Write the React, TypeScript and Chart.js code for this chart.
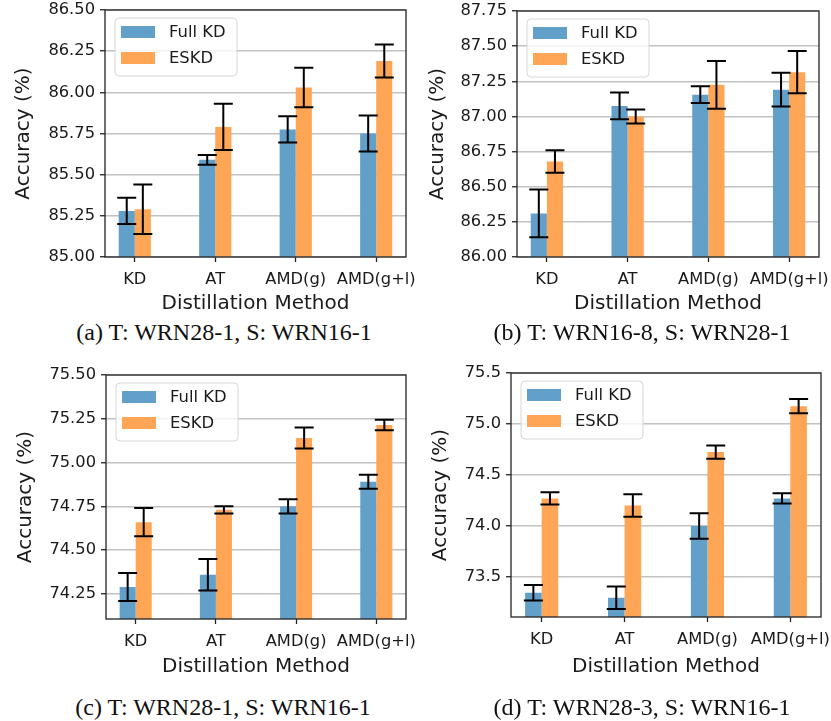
import React, { useEffect, useRef } from 'react';
import { Chart, registerables } from 'chart.js';

Chart.register(...registerables);

// Shared categories and series names
const methods = ['KD', 'AT', 'AMD(g)', 'AMD(g+l)'];
const seriesNames = ['Full KD', 'ESKD'];

// (a) T: WRN28-1, S: WRN16-1
const fullKdA = [85.28, 85.59, 85.775, 85.75];
const fullKdErrA = [0.08, 0.03, 0.08, 0.11];
const eskdA = [85.29, 85.79, 86.03, 86.19];
const eskdErrA = [0.15, 0.14, 0.12, 0.1];
const yTicksA = ['85.00', '85.25', '85.50', '85.75', '86.00', '86.25', '86.50'];
const yRangeA = [85.0, 86.5];

// (b) T: WRN16-8, S: WRN28-1
const fullKdB = [86.31, 87.075, 87.155, 87.19];
const fullKdErrB = [0.17, 0.095, 0.06, 0.12];
const eskdB = [86.68, 87.0, 87.225, 87.315];
const eskdErrB = [0.08, 0.05, 0.17, 0.15];
const yTicksB = ['86.00', '86.25', '86.50', '86.75', '87.00', '87.25', '87.50', '87.75'];
const yRangeB = [86.0, 87.75];

// (c) T: WRN28-1, S: WRN16-1
const fullKdC = [74.29, 74.36, 74.75, 74.89];
const fullKdErrC = [0.08, 0.09, 0.04, 0.04];
const eskdC = [74.66, 74.73, 75.14, 75.215];
const eskdErrC = [0.08, 0.02, 0.06, 0.03];
const yTicksC = ['74.25', '74.50', '74.75', '75.00', '75.25', '75.50'];
const yRangeC = [74.107, 75.5];

// (d) T: WRN28-3, S: WRN16-1
const fullKdD = [73.345, 73.295, 74.0, 74.27];
const fullKdErrD = [0.075, 0.11, 0.125, 0.05];
const eskdD = [74.27, 74.2, 74.725, 75.175];
const eskdErrD = [0.06, 0.11, 0.065, 0.07];
const yTicksD = ['73.5', '74.0', '74.5', '75.0', '75.5'];
const yRangeD = [73.107, 75.5];

const captions = [
  '(a) T: WRN28-1, S: WRN16-1',
  '(b) T: WRN16-8, S: WRN28-1',
  '(c) T: WRN28-1, S: WRN16-1',
  '(d) T: WRN28-3, S: WRN16-1',
];

const FONT = '"DejaVu Sans", sans-serif';
const TEXT = '#1a1a1a';
const BLUE = '#62a0ca';
const ORANGE = '#ffa556';

// Frame, error bars and an in-axes legend
const overlayPlugin = {
  id: 'overlay',
  afterDatasetsDraw(chart: any) {
    const { ctx, chartArea, scales } = chart;
    const y = scales.y;
    ctx.save();

    // error bars
    ctx.strokeStyle = '#000';
    ctx.lineWidth = 2;
    chart.data.datasets.forEach((ds: any, d: number) => {
      const meta = chart.getDatasetMeta(d);
      meta.data.forEach((bar: any, i: number) => {
        const v = ds.data[i].y;
        const e = ds.errors[i];
        const yt = y.getPixelForValue(v + e);
        const yb = y.getPixelForValue(v - e);
        const x = bar.x;
        const cap = 9.5;
        ctx.beginPath();
        ctx.moveTo(x, yt);
        ctx.lineTo(x, yb);
        ctx.moveTo(x - cap, yt);
        ctx.lineTo(x + cap, yt);
        ctx.moveTo(x - cap, yb);
        ctx.lineTo(x + cap, yb);
        ctx.stroke();
      });
    });

    // axes frame
    ctx.strokeStyle = '#222';
    ctx.lineWidth = 1.3;
    ctx.strokeRect(chartArea.left, chartArea.top, chartArea.right - chartArea.left, chartArea.bottom - chartArea.top);

    // legend
    const lx = chartArea.left + 10;
    const ly = chartArea.top + 8;
    const lw = 122;
    const lh = 58;
    const r = 4;
    ctx.beginPath();
    ctx.moveTo(lx + r, ly);
    ctx.arcTo(lx + lw, ly, lx + lw, ly + lh, r);
    ctx.arcTo(lx + lw, ly + lh, lx, ly + lh, r);
    ctx.arcTo(lx, ly + lh, lx, ly, r);
    ctx.arcTo(lx, ly, lx + lw, ly, r);
    ctx.closePath();
    ctx.fillStyle = 'rgba(255,255,255,0.8)';
    ctx.fill();
    ctx.strokeStyle = '#d6d6d6';
    ctx.lineWidth = 1;
    ctx.stroke();

    ctx.font = `16.4px ${FONT}`;
    ctx.textBaseline = 'middle';
    ctx.textAlign = 'left';
    chart.data.datasets.forEach((ds: any, d: number) => {
      const py = ly + 8 + d * 26;
      ctx.fillStyle = ds.backgroundColor;
      ctx.fillRect(lx + 6, py, 34, 12);
      ctx.fillStyle = TEXT;
      ctx.fillText(ds.label, lx + 54, py + 6.5);
    });

    ctx.restore();
  },
};

type PanelProps = {
  full: number[];
  fullErr: number[];
  eskd: number[];
  eskdErr: number[];
  yTicks: string[];
  yRange: number[];
  left: number;
  top: number;
  width: number;
  height: number;
  area: { left: number; top: number; right: number; bottom: number };
  yTitlePad: number;
  xTitlePad: number;
};

function Panel(p: PanelProps) {
  const ref = useRef<HTMLCanvasElement | null>(null);

  useEffect(() => {
    if (!ref.current) return;
    const { area, width, height } = p;
    const chart = new Chart(ref.current, {
      type: 'bar',
      data: {
        datasets: [
          {
            label: seriesNames[0],
            data: p.full.map((v, i) => ({ x: i, y: v })),
            backgroundColor: BLUE,
            borderWidth: 0,
            errors: p.fullErr,
          } as any,
          {
            label: seriesNames[1],
            data: p.eskd.map((v, i) => ({ x: i, y: v })),
            backgroundColor: ORANGE,
            borderWidth: 0,
            errors: p.eskdErr,
          } as any,
        ],
      },
      options: {
        responsive: false,
        animation: false,
        devicePixelRatio: 1,
        layout: { padding: { top: area.top, right: width + 16 - area.right, left: 0, bottom: 0 } },
        datasets: { bar: { categoryPercentage: 0.4, barPercentage: 1.0 } },
        plugins: {
          legend: { display: false },
          tooltip: { enabled: false },
        },
        scales: {
          x: {
            type: 'linear',
            min: -0.37,
            max: 3.37,
            offset: false,
            afterBuildTicks: (s: any) => {
              s.ticks = methods.map((_, i) => ({ value: i }));
            },
            afterFit: (s: any) => {
              s.height = height - area.bottom;
              s.paddingLeft = 0;
              s.paddingRight = 0;
            },
            ticks: {
              callback: (v: any) => methods[v as number],
              font: { family: FONT, size: 16.3 },
              color: TEXT,
              padding: 8,
              maxRotation: 0,
              autoSkip: false,
            },
            grid: {
              offset: false,
              drawOnChartArea: false,
              drawTicks: true,
              tickLength: 5,
              tickColor: '#222',
              tickWidth: 1.3,
            },
            border: { display: false },
            title: {
              display: true,
              text: 'Distillation Method',
              font: { family: FONT, size: 20 },
              color: TEXT,
              padding: { top: 0, bottom: p.xTitlePad },
            },
          },
          y: {
            min: p.yRange[0],
            max: p.yRange[1],
            afterBuildTicks: (s: any) => {
              s.ticks = p.yTicks.map((t) => ({ value: parseFloat(t) }));
            },
            afterFit: (s: any) => {
              s.width = area.left;
              s.paddingTop = 0;
              s.paddingBottom = 0;
            },
            ticks: {
              callback: (_v: any, i: number) => p.yTicks[i],
              font: { family: FONT, size: 16.3 },
              color: TEXT,
              padding: 5,
              autoSkip: false,
            },
            grid: {
              color: '#c2c2c2',
              lineWidth: 1.5,
              drawTicks: true,
              tickLength: 5,
              tickColor: '#222',
              tickWidth: 1.3,
            },
            border: { display: false },
            title: {
              display: true,
              text: 'Accuracy (%)',
              font: { family: FONT, size: 20 },
              color: TEXT,
              padding: { top: p.yTitlePad, bottom: 0 },
            },
          },
        },
      } as any,
      plugins: [overlayPlugin],
    });
    return () => chart.destroy();
  }, []);

  return (
    <canvas
      ref={ref}
      width={p.width + 16}
      height={p.height}
      style={{ position: 'absolute', left: p.left, top: p.top, width: p.width + 16, height: p.height }}
    />
  );
}

function Caption({ text, cx, cy }: { text: string; cx: number; cy: number }) {
  return (
    <div
      style={{
        position: 'absolute',
        left: cx - 200,
        top: cy - 14,
        width: 400,
        height: 28,
        lineHeight: '28px',
        textAlign: 'center',
        fontFamily: '"Liberation Serif", "Times New Roman", serif',
        fontSize: '24px',
        color: '#111',
        whiteSpace: 'nowrap',
      }}
    >
      {text}
    </div>
  );
}

export default function App() {
  return (
    <div style={{ position: 'absolute', left: 0, top: 0, width: 831, height: 721, background: '#fff', overflow: 'hidden' }}>
      <Panel
        full={fullKdA} fullErr={fullKdErrA} eskd={eskdA} eskdErr={eskdErrA}
        yTicks={yTicksA} yRange={yRangeA}
        left={0} top={0} width={415} height={318}
        area={{ left: 105, top: 10, right: 406, bottom: 257 }}
        yTitlePad={12} xTitlePad={2}
      />
      <Panel
        full={fullKdB} fullErr={fullKdErrB} eskd={eskdB} eskdErr={eskdErrB}
        yTicks={yTicksB} yRange={yRangeB}
        left={415} top={0} width={400} height={318}
        area={{ left: 102, top: 11, right: 404, bottom: 257 }}
        yTitlePad={11} xTitlePad={2}
      />
      <Panel
        full={fullKdC} fullErr={fullKdErrC} eskd={eskdC} eskdErr={eskdErrC}
        yTicks={yTicksC} yRange={yRangeC}
        left={0} top={360} width={415} height={320}
        area={{ left: 106, top: 15, right: 406, bottom: 259 }}
        yTitlePad={14} xTitlePad={1}
      />
      <Panel
        full={fullKdD} fullErr={fullKdErrD} eskd={eskdD} eskdErr={eskdErrD}
        yTicks={yTicksD} yRange={yRangeD}
        left={415} top={360} width={400} height={320}
        area={{ left: 96, top: 13, right: 406, bottom: 257 }}
        yTitlePad={14} xTitlePad={1}
      />
      <Caption text={captions[0]} cx={224} cy={332} />
      <Caption text={captions[1]} cx={642} cy={332} />
      <Caption text={captions[2]} cx={223} cy={707} />
      <Caption text={captions[3]} cx={642} cy={707} />
    </div>
  );
}
